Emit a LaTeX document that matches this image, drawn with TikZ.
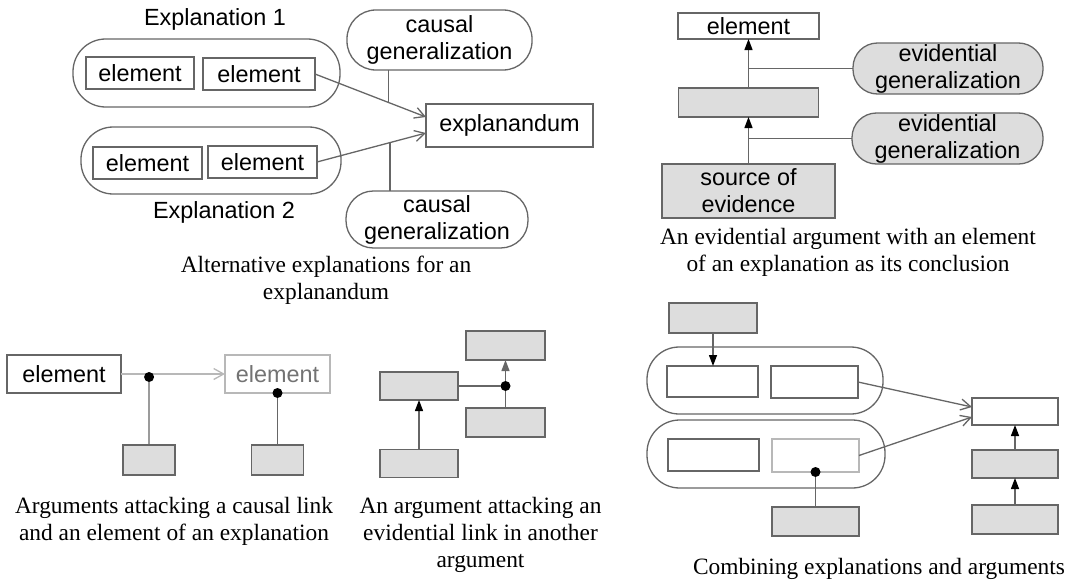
\documentclass[tikz,border=0pt]{standalone}
\usepackage{fontspec}
\setmainfont{Liberation Serif}
\newfontfamily\boxfont{Liberation Sans}
\usetikzlibrary{arrows.meta,calc}

\definecolor{edgegray}{HTML}{666666}
\definecolor{fillgray}{HTML}{DDDDDD}
\definecolor{faintgray}{HTML}{B8B8B8}

\tikzset{
	sz/.style 2 args={minimum width=#1pt, minimum height=#2pt},
	box/.style={draw=edgegray, line width=1.3pt, fill=white, inner sep=0pt, outer sep=0pt, align=center, font=\boxfont\fontsize{23.4}{27}\selectfont},
	greybox/.style={box, fill=fillgray},
	faintbox/.style={box, draw=faintgray, text=black!55},
	cap/.style 2 args={box, sz={#1}{#2}, rounded corners=0.48*#2pt},
	greycap/.style 2 args={cap={#1}{#2}, fill=fillgray},
	heading/.style={inner sep=0pt, font=\boxfont\fontsize{23.4}{27}\selectfont},
	capt/.style={inner sep=0pt, align=center, font=\fontsize{23.4}{27}\selectfont},
	link/.style={draw=edgegray, line width=1.3pt},
	faintlink/.style={draw=faintgray, line width=1.3pt, -{Straight Barb[length=10pt,width=11pt]}},
	causal/.style={link, -{Straight Barb[length=10pt,width=11pt]}},
	support/.style={link, -{Triangle[length=11pt,width=8pt,color=black]}},
	greysupport/.style={link, -{Triangle[length=11pt,width=8pt,color=edgegray]}},
	attackdot/.style={circle, fill=black, inner sep=0pt, outer sep=0pt, minimum size=10pt}
}

\begin{document}
\begin{tikzpicture}[x=1pt, y=-1pt]
	\useasboundingbox (0,0) rectangle (1077,584);

	% alternative explanations
	\node[heading] (ex1) at (215,19) {Explanation 1};
	\node[cap={267}{68}] (cap1) at (206.5,73) {};
	\node[box, sz={108}{32}] (el1a) at (140,73) {element};
	\node[box, sz={112}{32}] (el1b) at (259,74) {element};
	\node[cap={260}{67}] (cap2) at (211,160.5) {};
	\node[box, sz={109}{32}] (el2a) at (147.5,163) {element};
	\node[box, sz={109}{32}] (el2b) at (262.5,162) {element};
	\node[heading] (ex2) at (224,212) {Explanation 2};
	\node[cap={185}{60}] (cg1) at (439.5,40) {causal\\generalization};
	\node[cap={182}{57}] (cg2) at (437,219.5) {causal\\generalization};
	\node[box, sz={167}{43}] (expd) at (509.5,125.5) {explanandum};
	\draw[causal] (el1b.east) -- coordinate[pos=0.66] (c1) ([yshift=8.5pt]expd.west);
	\draw[causal] (el2b.east) -- coordinate[pos=0.67] (c2) ([yshift=-7.5pt]expd.west);
	\draw[link] (c1) -- (c1 |- cg1.south);
	\draw[link] (c2) -- (c2 |- cg2.north);
	\node[capt] (capa) at (326,280) {Alternative explanations for an\\explanandum};

	% evidential argument
	\node[box, sz={141}{26}] (tel) at (748.5,26) {element};
	\node[greybox, sz={140}{29}] (tmid) at (748.5,102.5) {};
	\node[greybox, sz={173}{54}] (tsrc) at (748.5,191) {source of\\evidence};
	\node[greycap={190}{51}] (eg1) at (948,68.5) {evidential\\generalization};
	\node[greycap={191}{51}] (eg2) at (947.5,138.5) {evidential\\generalization};
	\draw[support] (tsrc.north) -- (tmid.south);
	\draw[support] (tmid.north) -- (tel.south);
	\draw[link] (eg1.west) -- (eg1.west -| tel.south);
	\draw[link] (eg2.west) -- (eg2.west -| tel.south);
	\node[capt] (capb) at (848,252) {An evidential argument with an element\\of an explanation as its conclusion};

	% attacks on a causal link and an element
	\node[box, sz={114}{38}] (el3) at (64,374) {element};
	\node[faintbox, sz={105}{38}] (el4) at (277.5,374) {element};
	\node[greybox, sz={52}{30}] (g1) at (149,460) {};
	\node[greybox, sz={52}{30}] (g2) at (277.5,460) {};
	\draw[faintlink] (el3) -- coordinate[pos=0.27] (k1) (el4);
	\node[attackdot] (d1) at ([yshift=-3pt]k1) {};
	\node[attackdot] (d2) at (el4.south) {};
	\draw[link] (g1) -- (d1);
	\draw[link] (g2) -- (d2);
	\node[capt] (capc) at (174,521.5) {Arguments attacking a causal link\\and an element of an explanation};

	% attack on an evidential link
	\node[greybox, sz={78}{28}] (ga) at (419,386) {};
	\node[greybox, sz={78}{28}] (gb) at (419,463.5) {};
	\node[greybox, sz={79}{29}] (gc) at (505.5,345.5) {};
	\node[greybox, sz={79}{29}] (gd) at (505.5,422.5) {};
	\draw[support] (gb) -- (ga);
	\draw[greysupport] (gd) -- (gc);
	\node[attackdot] (d3) at (ga.east -| gc.south) {};
	\draw[link] (ga.east) -- (d3);
	\node[capt] (capd) at (480.5,535) {An argument attacking an\\evidential link in another\\argument};

	% explanations and arguments together
	\node[greybox, sz={88}{30}] (gt) at (713,318) {};
	\node[cap={236}{67}] (cap3) at (765,380.5) {};
	\node[box, sz={91}{31}] (b1) at (712.5,381.5) {};
	\node[box, sz={87}{32}] (b2) at (814.5,382) {};
	\node[cap={238}{68}] (cap4) at (766,454) {};
	\node[box, sz={91}{32}] (b3) at (713.5,455) {};
	\node[faintbox, sz={87}{33}] (b4) at (815.5,455.5) {};
	\node[greybox, sz={87}{29}] (gu) at (815.5,521.5) {};
	\node[box, sz={86}{27}] (r1) at (1015,411.5) {};
	\node[greybox, sz={86}{28}] (r2) at (1015,464) {};
	\node[greybox, sz={86}{29}] (r3) at (1015,519.5) {};
	\draw[support] (gt.south) -- (gt.south |- b1.north);
	\node[attackdot] (d4) at (b4.south) {};
	\draw[link] (gu) -- (d4);
	\draw[support] (r3) -- (r2);
	\draw[support] (r2) -- (r1);
	\draw[causal] (b2.east) -- ([yshift=4.5pt]r1.west);
	\draw[causal] (b4.east) -- ([yshift=-5.5pt]r1.west);
	\node[capt] (cape) at (879,569) {Combining explanations and arguments};
\end{tikzpicture}
\end{document}
